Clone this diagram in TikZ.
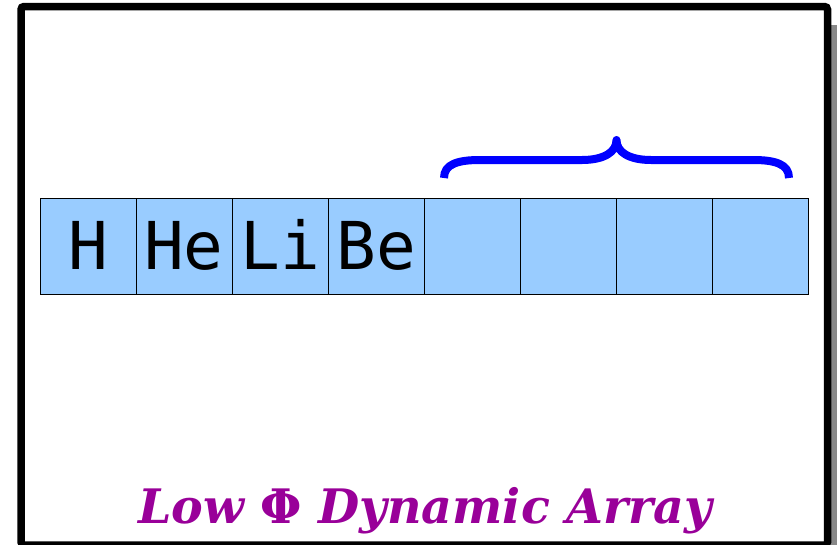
\documentclass[tikz,border=0pt]{standalone}
\usepackage{fontspec}
\newfontfamily\monofont{DejaVu Sans Mono}
\newfontfamily\titlefont{DejaVu Serif}
\definecolor{cellblue}{HTML}{99CCFF}
\definecolor{titlepurple}{HTML}{990099}
\definecolor{shadowgray}{HTML}{888888}
\tikzset{
  cell/.style={draw=black, line width=0.8pt, fill=cellblue, minimum width=96pt, minimum height=96pt,
    inner sep=0pt, text height=49pt, text depth=2pt, font=\monofont\fontsize{66}{66}\selectfont},
  bracepath/.style={draw=blue, line width=8pt, line join=round, line cap=butt},
  titletext/.style={text=titlepurple, font=\titlefont\bfseries\itshape\fontsize{47.5}{47.5}\selectfont, inner sep=0pt, anchor=base}
}
\begin{document}
\begin{tikzpicture}[x=1pt,y=-1pt]
\useasboundingbox (0,0) rectangle (837,544);
% shadow and frame
\fill[shadowgray] (38,25) rectangle (860,580);
\draw[line width=7.5pt, fill=white, rounded corners=3pt] (21,6.5) rectangle (827.5,545);
% cells
\node[cell] (c0) at (88,246) {H};
\node[cell] (c1) at (184,246) {He};
\node[cell] (c2) at (280,246) {Li};
\node[cell] (c3) at (376,246) {Be};
\node[cell] (c4) at (472,246) {};
\node[cell] (c5) at (568,246) {};
\node[cell] (c6) at (664,246) {};
\node[cell] (c7) at (760,246) {};
% brace
\coordinate (bl) at (444,178);
\coordinate (bt) at (616.5,140);
\coordinate (br) at (789,178);
\draw[bracepath] (bl) .. controls (444,164) and (458,160) .. (480,160) -- (582,160)
  .. controls (604,160) and (616.5,152) .. (bt)
  .. controls (616.5,152) and (629,160) .. (651,160) -- (753,160)
  .. controls (775,160) and (789,164) .. (br);
% title
\node[titletext] (title) at (425,523) {Low {\upshape Φ} Dynamic Array};
\end{tikzpicture}
\end{document}
